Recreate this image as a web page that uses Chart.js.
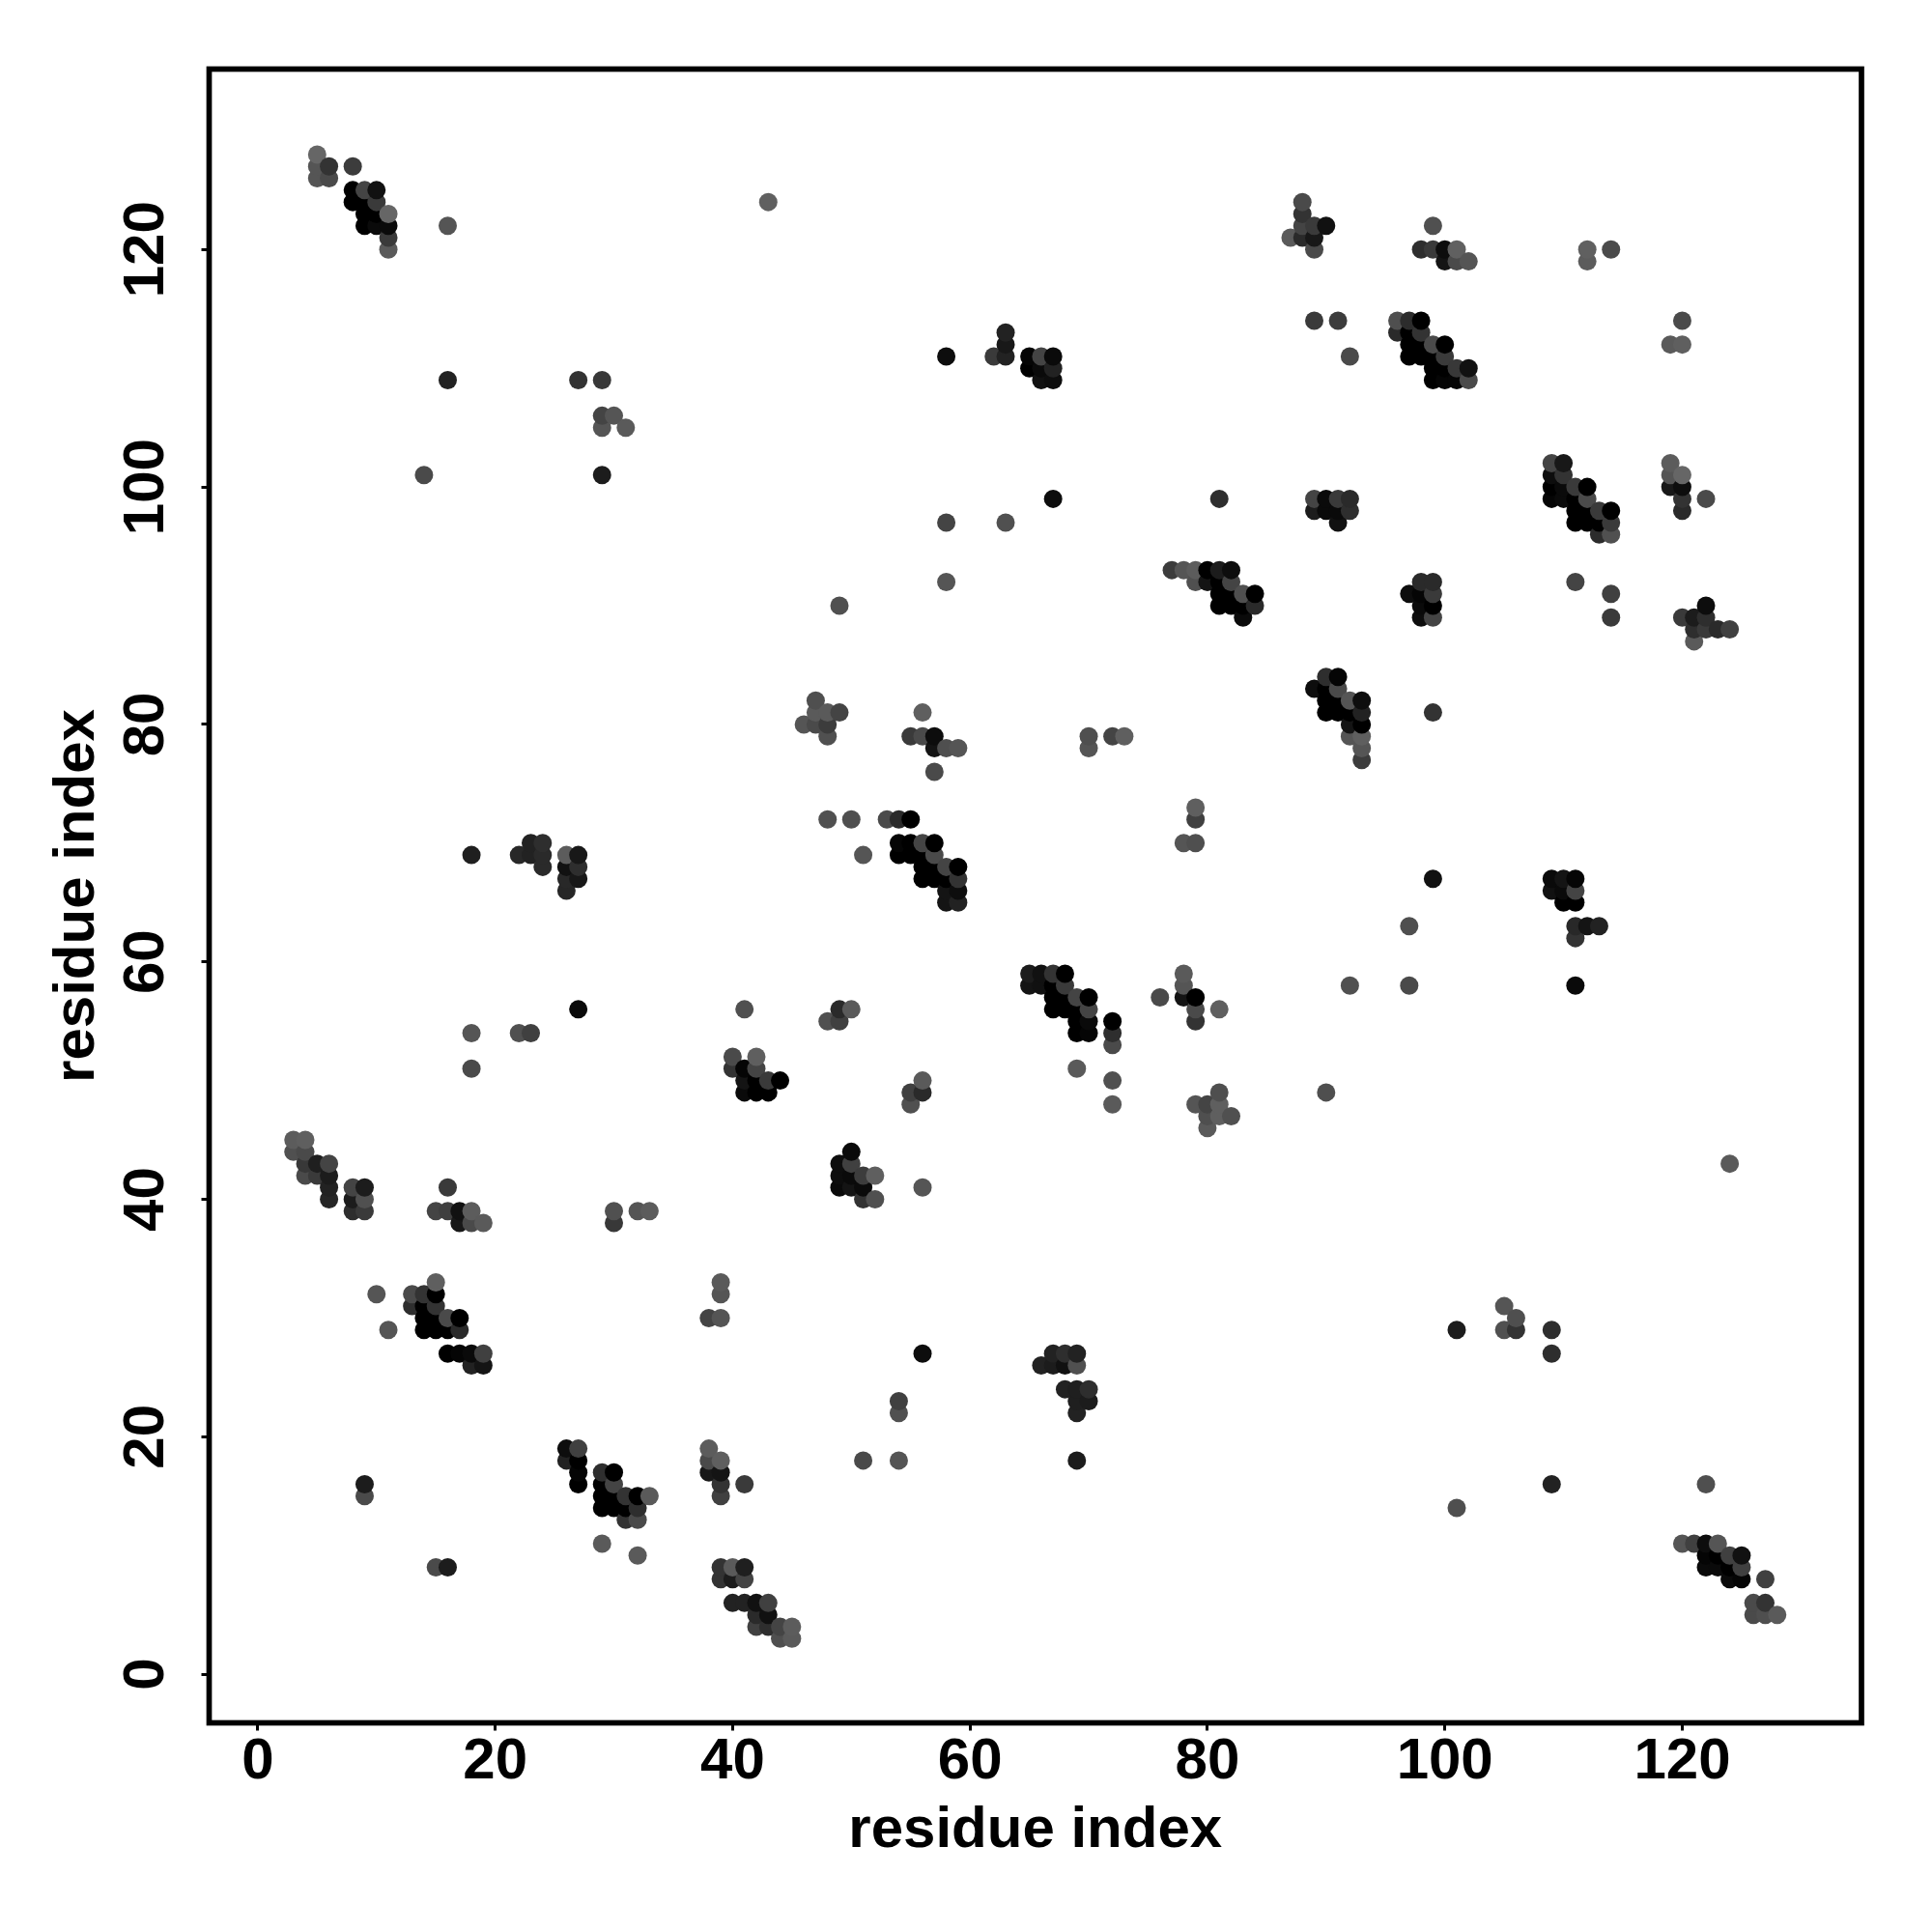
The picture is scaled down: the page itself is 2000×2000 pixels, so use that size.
<!DOCTYPE html>
<html>
<head>
<meta charset="utf-8">
<title>residue contact map</title>
<script src="https://cdn.jsdelivr.net/npm/chart.js@4"></script>
<style>
  html, body { margin: 0; background: #fff; }
  canvas { display: block; }
</style>
</head>
<body>
<canvas id="contactMap" width="2000" height="2000"></canvas>
<script>
const axisTicks = [0, 20, 40, 60, 80, 100, 120];
const axisLabel = "residue index";

// one line per cluster. gray is the hex level of each dot
const contactX = [
  5,5,5,6,6,8,
  8,8,9,9,9,9,10,10,10,10,11,11,11,11,
  16,16,27,29,29,30,29,31,14,29,
  43,87,
  58,62,63,63,63,65,65,66,66,66,67,67,67,67,81,58,63,
  88,88,88,88,89,89,89,90,99,98,99,100,100,101,101,102,112,112,114,
  89,91,92,
  96,96,97,97,97,97,98,98,98,98,99,99,99,99,100,100,100,100,101,101,102,102,
  120,119,120,
  109,110,109,109,109,110,110,110,111,112,112,111,111,111,112,112,113,113,113,114,114,114,
  119,119,120,119,120,120,120,122,
  89,89,90,90,91,91,91,92,92,
  18,22,23,23,24,24,24,26,26,26,26,27,27,27,
  49,58,
  77,78,79,79,80,80,81,81,81,81,82,82,82,82,83,83,83,84,84,
  47,46,47,47,48,48,48,49,
  56,55,56,57,57,58,59,57,
  70,70,72,73,79,79,78,79,
  48,50,53,54,55,51,
  54,54,55,55,56,56,56,56,57,57,57,57,58,58,58,58,59,59,59,59,
  98,99,97,98,99,98,99,98,99,
  111,114,114,
  122,120,121,122,121,122,123,124,121,
  90,91,89,90,91,90,90,91,91,92,92,92,92,93,93,93,93,93,93,
  99,99,
  109,109,110,110,110,111,111,111,
  97,111,111,112,113,
  27,18,18,22,23,41,
  40,40,41,41,41,42,42,42,42,43,43,44,
  3,3,4,4,4,4,5,5,6,6,6,6,
  8,8,8,9,9,9,16,
  15,16,17,17,18,18,19,30,30,32,33,
  15,10,13,14,15,13,14,15,14,14,15,15,16,16,17,17,11,
  16,17,18,19,18,19,39,39,38,39,
  65,65,66,66,67,67,67,67,68,68,68,68,69,69,69,69,70,70,70,70,
  72,72,72,69,72,72,76,
  78,78,78,79,79,79,81,
  81,79,80,81,80,81,82,80,
  56,55,56,55,
  49,50,48,49,
  50,49,50,49,49,50,50,51,51,51,52,52,56,56,
  67,68,69,66,67,68,69,
  68,69,70,69,70,69,69,54,54,51,54,
  92,97,111,90,124,101,105,106,105,106,109,109,
  9,9,26,26,27,27,27,27,
  29,29,29,29,30,30,30,30,31,31,31,32,32,32,33,29,32,
  15,16,
  38,38,38,39,39,39,39,41,
  39,39,40,40,41,41,40,41,42,42,42,43,43,43,44,44,45,45,
  101,109,122,
  120,121,122,122,122,123,123,123,124,124,124,125,125,125,
  127,126,126,127,127,128
];

const contactY = [
  128,127,126,127,126,127,
  125,124,125,124,123,122,125,124,123,122,123,122,121,120,
  122,109,109,109,106,106,105,105,101,101,
  124,121,
  111,111,111,112,113,111,110,111,110,109,111,110,109,99,99,97,97,
  124,123,122,121,122,121,120,122,122,120,120,120,119,120,119,119,120,119,120,
  114,114,111,
  114,113,114,113,112,111,114,113,112,111,112,111,110,109,112,111,110,109,110,109,110,109,
  114,112,112,
  102,102,101,100,99,101,100,99,100,100,99,99,98,97,98,97,98,97,96,98,97,96,
  102,101,101,100,100,99,98,99,
  99,98,99,98,99,98,97,99,98,
  69,69,70,69,70,69,68,69,68,67,66,69,68,67,
  90,92,
  93,93,93,92,93,92,93,92,91,90,93,92,91,90,91,90,89,91,90,
  82,80,81,80,81,80,79,81,
  81,79,79,79,78,78,78,76,
  79,78,79,79,73,72,70,70,
  72,72,72,72,72,69,
  70,69,70,69,70,69,68,67,70,69,68,67,68,67,66,65,68,67,66,65,
  92,92,91,91,91,90,90,89,89,
  92,91,89,
  90,89,89,89,88,88,88,88,87,
  84,84,83,83,83,82,81,82,81,82,81,80,79,82,81,80,79,78,77,
  81,67,
  67,66,67,66,65,67,66,65,
  63,63,62,63,63,
  56,54,51,54,54,56,
  52,51,51,50,49,52,51,50,49,50,49,50,
  45,44,45,44,43,42,43,42,43,42,41,40,
  41,40,39,41,40,39,41,
  39,39,39,38,39,38,38,39,38,39,39,
  33,32,32,32,32,31,31,31,30,29,30,29,30,29,30,29,29,
  27,27,27,27,26,26,33,32,30,30,
  59,58,59,58,59,58,57,56,59,58,57,56,57,56,55,54,57,56,55,54,
  55,54,53,51,50,48,57,
  59,58,57,57,56,55,56,
  49,48,48,48,47,47,47,46,
  50,49,49,48,
  56,56,55,55,
  44,43,43,42,41,42,41,42,41,40,42,40,41,27,
  27,27,27,26,26,26,26,
  24,24,24,23,23,22,18,23,22,18,18,
  58,58,58,49,43,29,31,30,29,29,29,27,
  16,15,19,18,19,18,17,16,
  17,16,15,14,17,16,15,14,15,14,13,15,14,13,15,11,10,
  9,9,
  19,18,17,18,17,16,15,16,
  9,8,9,8,9,8,6,6,6,5,4,6,5,4,4,3,4,3,
  14,16,16,
  11,11,11,10,9,11,10,9,10,9,8,10,9,8,
  8,6,5,6,5,5
];

const contactGray = [
  "66","55","55","33","4a","3c",
  "00","00","44","00","00","00","11","3a","00","0a","66","0a","3a","5a",
  "55","22","33","38","44","55","55","5a","4a","1c",
  "60","5a",
  "0d","3a","22","18","22","05","00","44","0a","11","0a","22","0d","0d","2e","44","50",
  "4a","33","44","2a","3a","18","4a","11","50","2e","3a","0d","14","60","4a","55","60","5c","4a",
  "3a","3c","4a",
  "4f","2a","2c","00","00","00","00","33","00","00","4a","00","00","00","00","3a","00","05","38","05","11","4a",
  "4a","5a","5f",
  "44","18","0d","00","05","33","0a","0a","3a","00","4a","00","00","00","00","00","3a","00","2c","00","3a","50",
  "5c","55","66","18","0d","33","2a","4a",
  "44","1c","0a","0a","3a","0a","11","2a","2e",
  "1f","28","22","22","2e","2a","2a","5c","11","28","26","18","2e","18",
  "50","55",
  "3c","55","5c","50","00","14","1c","00","00","00","0d","44","00","00","4f","00","0a","00","2a",
  "4f","55","5a","4a","5a","3c","50","44",
  "5f","3a","4a","0d","14","4f","55","4a",
  "4f","55","44","5f","5f","40","55","4f",
  "50","4f","4a","2a","00","55",
  "05","00","00","00","44","00","00","00","00","4a","00","00","44","00","14","14","00","33","0d","22",
  "2a","2a","0d","05","3a","0a","00","0d","44",
  "44","40","3a",
  "0d","3a","1c","2e","2e","3a","2a","40","5a",
  "2e","05","0d","00","4a","00","00","00","00","55","00","14","55","0d","22","00","5f","55","3c",
  "33","11",
  "0a","11","14","0a","00","05","44","00",
  "4f","28","33","14","22",
  "0a","55","4a","50","40","50",
  "4a","33","05","14","0a","5f","44","00","00","3a","00","00",
  "5c","50","5f","4a","38","4a","1f","3a","44","1c","22","26",
  "44","1c","2e","1c","50","3a","3a",
  "44","3f","11","18","5c","4a","5a","50","38","55","5c",
  "5f","55","4a","33","00","2e","00","33","00","00","00","00","4a","00","00","2a","55",
  "00","05","0a","40","22","14","5a","55","44","55",
  "1c","14","11","11","33","00","00","00","00","3a","00","00","44","00","00","00","00","44","0a","05",
  "00","2e","4a","5a","50","5a","4a",
  "5a","55","14","00","4a","33","5f",
  "4f","55","44","5f","4f","5f","50","5a",
  "5a","40","2a","50",
  "2a","5a","50","40",
  "0a","0d","40","0d","0a","0a","14","3c","0a","33","5f","50","55","0d",
  "22","2e","22","22","1c","11","50",
  "22","1f","2e","1f","1c","22","1c","40","50","4a","55",
  "50","4a","0a","4f","5a","1c","55","4f","50","33","2e","2e",
  "1c","4a","0d","22","40","00","05","00",
  "2e","00","00","00","00","44","00","00","33","00","33","00","2e","4a","5a","5a","5a",
  "4a","1c",
  "5c","4a","18","5f","14","33","40","3a",
  "33","33","5a","1c","1f","44","22","22","11","2a","40","40","11","2e","44","4f","5c","5a",
  "4f","22","4f",
  "55","40","0d","05","0a","55","00","0a","40","00","0a","11","40","05",
  "40","4a","4a","33","4f","5a"
];

// draw order of the dots: by column, then upward
const drawOrder = contactX.map((_, i) => i)
  .sort((a, b) => contactX[a] - contactX[b] || contactY[a] - contactY[b]);

const labelFont = { family: "'Liberation Sans', Arial, sans-serif", size: 60, weight: "bold" };

const frame = {
  id: "frame",
  afterDraw(chart) {
    const { left, top, width, height } = chart.chartArea;
    const ctx = chart.ctx;
    ctx.save();
    ctx.strokeStyle = "#000";
    ctx.lineWidth = 5.7;
    ctx.strokeRect(left, top, width, height);
    ctx.restore();
  }
};

function axisOptions(extra) {
  return Object.assign({
    type: "linear",
    min: -4.1,
    max: 135.1,
    afterBuildTicks: (scale) => { scale.ticks = axisTicks.map(v => ({ value: v })); },
    grid: { drawOnChartArea: false, drawTicks: true, tickLength: 8, tickWidth: 3, tickColor: "#000" },
    border: { display: false }
  }, extra);
}

new Chart(document.getElementById("contactMap"), {
  type: "scatter",
  data: {
    datasets: [{
      data: drawOrder.map(i => ({ x: contactX[i], y: contactY[i] })),
      pointBackgroundColor: drawOrder.map(i => "#" + contactGray[i] + contactGray[i] + contactGray[i]),
      pointBorderWidth: 0,
      pointRadius: 9.5,
      pointHoverRadius: 9.5
    }]
  },
  options: {
    responsive: false,
    animation: false,
    layout: { padding: { top: 71.5, right: 73, bottom: 0, left: 0 } },
    plugins: { legend: { display: false }, tooltip: { enabled: false } },
    scales: {
      x: axisOptions({
        afterFit: (scale) => { scale.height = 216.5; },
        ticks: { color: "#000", font: labelFont, padding: -3, autoSkip: false, maxRotation: 0, minRotation: 0 },
        title: { display: true, text: axisLabel, color: "#000", font: labelFont, padding: { top: 0, bottom: 69 } }
      }),
      y: axisOptions({
        max: 135.2,
        afterFit: (scale) => { scale.width = 216.5; },
        ticks: { color: "#000", font: labelFont, padding: 6, autoSkip: false, minRotation: 90, maxRotation: 90, crossAlign: "center" },
        title: { display: true, text: axisLabel, color: "#000", font: labelFont, padding: { top: 44, bottom: 0 } }
      })
    }
  },
  plugins: [frame]
});
</script>
</body>
</html>
